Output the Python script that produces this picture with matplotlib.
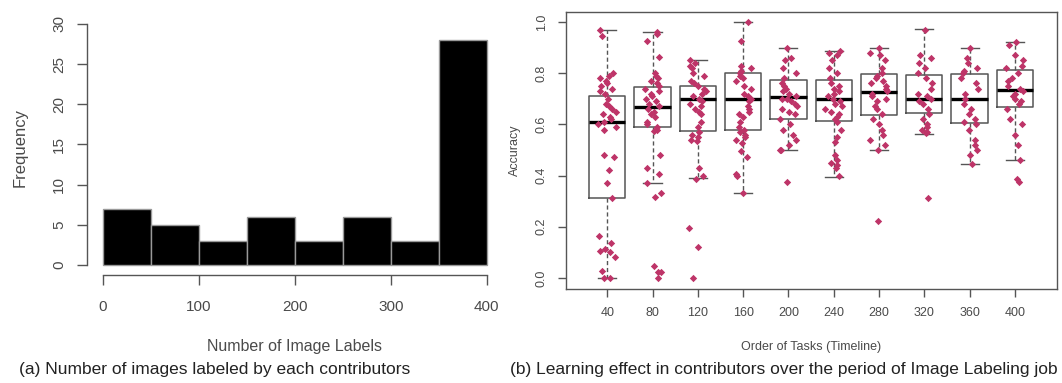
import numpy as np
import matplotlib
matplotlib.use("Agg")
import matplotlib.pyplot as plt

plt.rcParams['font.family'] = ['Liberation Sans', 'DejaVu Sans']

# ---- data: histogram (a)
bin_edges = [0, 50, 100, 150, 200, 250, 300, 350, 400]
counts = [7, 5, 3, 6, 3, 6, 3, 28]

# ---- data: boxplot (b)
task_labels = ['40', '80', '120', '160', '200', '240', '280', '320', '360', '400']
# whisker low, q1, median, q3, whisker high
whislo = [0.00, 0.372, 0.39, 0.333, 0.499, 0.396, 0.499, 0.5625, 0.447, 0.462]
q1     = [0.3125, 0.591, 0.575, 0.58, 0.622, 0.612, 0.637, 0.645, 0.605, 0.668]
med    = [0.611, 0.667, 0.70, 0.70, 0.706, 0.698, 0.728, 0.698, 0.698, 0.736]
q3     = [0.712, 0.746, 0.75, 0.80, 0.773, 0.772, 0.797, 0.792, 0.797, 0.8125]
whishi = [0.970, 0.962, 0.85, 1.00, 0.898, 0.888, 0.897, 0.971, 0.897, 0.922]

acc_40 = [0.97, 0.945, 0.80, 0.79, 0.78, 0.77, 0.76, 0.75, 0.74, 0.73, 0.72, 0.70,
          0.68, 0.67, 0.66, 0.65, 0.64, 0.63, 0.62, 0.61, 0.60, 0.59, 0.58, 0.48,
          0.471, 0.423, 0.37, 0.311, 0.164, 0.135, 0.115, 0.107, 0.10, 0.083,
          0.027, 0.0, 0.0]
acc_80 = [0.962, 0.955, 0.925, 0.865, 0.80, 0.79, 0.78, 0.77, 0.76, 0.75, 0.74,
          0.73, 0.72, 0.71, 0.70, 0.69, 0.68, 0.67, 0.66, 0.65, 0.64, 0.63, 0.61,
          0.60, 0.59, 0.58, 0.575, 0.482, 0.431, 0.406, 0.371, 0.331, 0.315,
          0.047, 0.025, 0.025, 0.0]
acc_120 = [0.85, 0.84, 0.83, 0.82, 0.80, 0.79, 0.77, 0.76, 0.75, 0.74, 0.73, 0.72,
           0.71, 0.70, 0.69, 0.68, 0.67, 0.66, 0.65, 0.64, 0.61, 0.59, 0.57, 0.56,
           0.55, 0.54, 0.535, 0.428, 0.397, 0.387, 0.197, 0.121, 0.0]
acc_160 = [1.0, 0.925, 0.83, 0.82, 0.81, 0.80, 0.79, 0.78, 0.77, 0.75, 0.74, 0.72,
           0.71, 0.70, 0.69, 0.67, 0.66, 0.65, 0.64, 0.63, 0.61, 0.59, 0.58, 0.57,
           0.56, 0.55, 0.54, 0.528, 0.497, 0.471, 0.405, 0.40, 0.331]
acc_200 = [0.898, 0.86, 0.85, 0.82, 0.80, 0.78, 0.76, 0.75, 0.74, 0.73, 0.72, 0.71,
           0.70, 0.70, 0.69, 0.68, 0.67, 0.66, 0.65, 0.64, 0.62, 0.60, 0.58, 0.56,
           0.54, 0.52, 0.50, 0.50, 0.374]
acc_240 = [0.888, 0.88, 0.87, 0.85, 0.82, 0.80, 0.78, 0.76, 0.75, 0.74, 0.73, 0.72,
           0.71, 0.70, 0.69, 0.68, 0.67, 0.66, 0.65, 0.64, 0.63, 0.62, 0.61, 0.58,
           0.55, 0.53, 0.48, 0.46, 0.45, 0.44, 0.43, 0.40]
acc_280 = [0.897, 0.88, 0.87, 0.85, 0.82, 0.80, 0.79, 0.78, 0.77, 0.76, 0.75, 0.74,
           0.73, 0.72, 0.71, 0.70, 0.69, 0.67, 0.66, 0.64, 0.62, 0.60, 0.58, 0.56,
           0.54, 0.52, 0.50, 0.223]
acc_320 = [0.97, 0.87, 0.86, 0.84, 0.82, 0.80, 0.78, 0.76, 0.74, 0.72, 0.71, 0.70,
           0.69, 0.68, 0.66, 0.64, 0.62, 0.60, 0.59, 0.58, 0.57, 0.565, 0.314]
acc_360 = [0.897, 0.86, 0.84, 0.82, 0.81, 0.80, 0.78, 0.76, 0.74, 0.72, 0.70, 0.68,
           0.66, 0.64, 0.62, 0.61, 0.60, 0.58, 0.54, 0.52, 0.50, 0.48, 0.447]
acc_400 = [0.92, 0.91, 0.87, 0.85, 0.83, 0.82, 0.80, 0.78, 0.77, 0.75, 0.74, 0.73,
           0.72, 0.71, 0.70, 0.69, 0.68, 0.66, 0.62, 0.60, 0.56, 0.52, 0.462,
           0.387, 0.376]
points = [acc_40, acc_80, acc_120, acc_160, acc_200, acc_240, acc_280, acc_320,
          acc_360, acc_400]

txt = '#4a4a4a'
axcol = '#555555'
pt_col = '#BE3468'

fig = plt.figure(figsize=(10.62, 3.83), dpi=100)

# =============================================================================
# (a) histogram
ax1 = fig.add_axes([0.0819, 0.282, 0.391, 0.666])
ax1.bar(bin_edges[:-1], counts, width=np.diff(bin_edges), align='edge',
        color='black', edgecolor='#999999', linewidth=1.0)
ax1.set_xlim(-16.75, 416)
ax1.set_ylim(-1.245, 30.5)
for s in ['top', 'right']:
    ax1.spines[s].set_visible(False)
ax1.spines['left'].set_bounds(0, 30)
ax1.spines['bottom'].set_bounds(0, 400)
for s in ['left', 'bottom']:
    ax1.spines[s].set_color(axcol)
    ax1.spines[s].set_linewidth(1.0)
ax1.set_xticks([0, 100, 200, 300, 400])
ax1.set_yticks([0, 5, 10, 15, 20, 25, 30])
ax1.tick_params(colors=axcol, labelcolor=txt, labelsize=11, length=7, width=1.0)
ax1.tick_params(axis='x', pad=11)
ax1.tick_params(axis='y', pad=8)
for lab in ax1.get_yticklabels():
    lab.set_rotation(90)
    lab.set_va('center')
ax1.set_ylabel('Frequency', color=txt, fontsize=12, labelpad=18)
ax1.set_xlabel('Number of Image Labels', color=txt, fontsize=11.5, labelpad=18)

# =============================================================================
# (b) boxplot + stripchart
ax2 = fig.add_axes([0.533, 0.2454, 0.4623, 0.7232])
pos = np.arange(1, len(task_labels) + 1)
stats = []
for i in range(len(task_labels)):
    stats.append(dict(whislo=whislo[i], q1=q1[i], med=med[i], q3=q3[i],
                      whishi=whishi[i], fliers=[]))
ax2.bxp(stats, positions=pos, widths=0.8, showfliers=False, zorder=1,
        boxprops=dict(color=axcol, linewidth=1.1),
        medianprops=dict(color='black', linewidth=2.4),
        whiskerprops=dict(color=axcol, linewidth=1.0, linestyle=(0, (3, 2))),
        capprops=dict(color=axcol, linewidth=1.0))

rng = np.random.default_rng(3)  # horizontal jitter only
for i, vals in enumerate(points):
    jx = pos[i] + rng.uniform(-0.2, 0.2, len(vals))
    ax2.scatter(jx, vals, marker='D', s=14, color=pt_col, linewidths=0, zorder=3)

ax2.set_xlim(0.09, 10.93)
ax2.set_ylim(-0.043, 1.039)
ax2.set_xticks(pos)
ax2.set_xticklabels(task_labels)
ax2.set_yticks([0.0, 0.2, 0.4, 0.6, 0.8, 1.0])
ax2.set_yticklabels(['0.0', '0.2', '0.4', '0.6', '0.8', '1.0'])
for s in ax2.spines.values():
    s.set_color(axcol)
    s.set_linewidth(1.0)
ax2.tick_params(colors=axcol, labelcolor=txt, labelsize=9, length=6, width=1.0,
                pad=7)
for lab in ax2.get_yticklabels():
    lab.set_rotation(90)
    lab.set_va('center')
ax2.set_ylabel('Accuracy', color=txt, fontsize=9, labelpad=11)
ax2.set_xlabel('Order of Tasks (Timeline)', color=txt, fontsize=9, labelpad=16)

# captions
fig.text(0.2024, 0.034, '(a) Number of images labeled by each contributors',
         ha='center', va='center', fontsize=12.5, color='#222222')
fig.text(0.738, 0.034, '(b) Learning effect in contributors over the period of Image Labeling job',
         ha='center', va='center', fontsize=12.5, color='#222222')

plt.savefig('out.png', dpi=100)
